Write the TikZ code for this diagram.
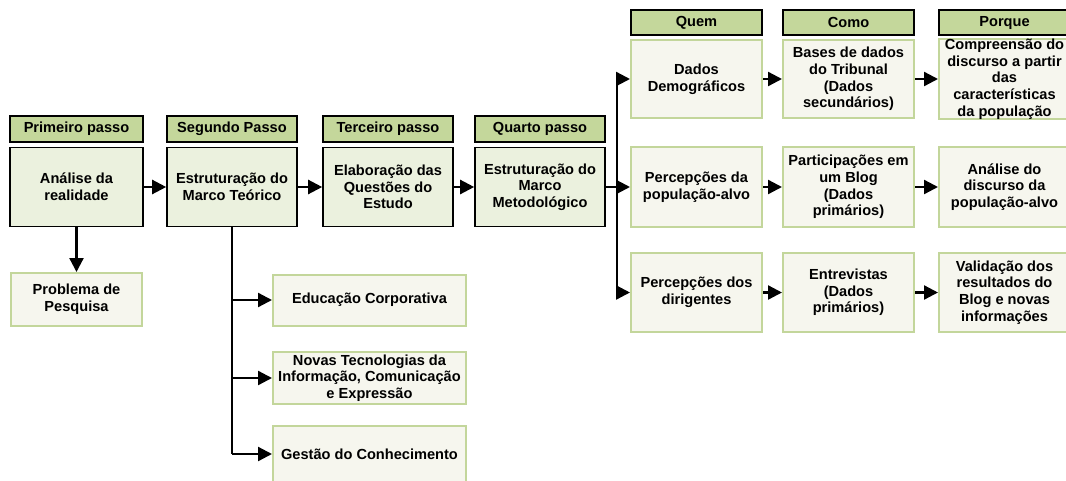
\documentclass[tikz,border=0pt]{standalone}
\usepackage{fontspec}
\setmainfont{Liberation Sans}
\usetikzlibrary{arrows.meta}
\definecolor{hdrfill}{HTML}{C4D79B}
\definecolor{mainfill}{HTML}{EBF1DE}
\definecolor{lightfill}{HTML}{F6F6EE}
\definecolor{lightborder}{HTML}{C3D69B}
\begin{document}
\begin{tikzpicture}[x=1pt,y=-1pt,
  every node/.style={font=\fontsize{14.6}{16.7}\selectfont\bfseries, align=center, inner sep=0pt, text=black},
  hdr/.style={draw=black, line width=1.6pt, fill=hdrfill, minimum height=26},
  mainbox/.style={draw=black, line width=1.6pt, fill=mainfill, minimum height=79},
  lightbox/.style={draw=lightborder, line width=2pt, fill=lightfill},
  conn/.style={line width=2.3pt},
  arr/.style={conn, -{Triangle[length=14pt,width=14pt]}}]
\useasboundingbox (0,0) rectangle (1066,480);
\clip (0,0) rectangle (1066,480);
% --- main row headers
\node[hdr, minimum width=133] (h1) at (76.5,129) {Primeiro passo};
\node[hdr, minimum width=130] (h2) at (232,129) {Segundo Passo};
\node[hdr, minimum width=130] (h3) at (388,129) {Terceiro passo};
\node[hdr, minimum width=130] (h4) at (540,129) {Quarto passo};
% --- main row boxes
\node[mainbox, minimum width=133] (m1) at (76.5,187) {Análise da\\realidade};
\node[mainbox, minimum width=130] (m2) at (232,187) {Estruturação do\\Marco Teórico};
\node[mainbox, minimum width=130] (m3) at (388,187) {Elaboração das\\Questões do\\Estudo};
\node[mainbox, minimum width=130] (m4) at (540,187) {Estruturação do\\Marco\\Metodológico};
% --- below
\node[lightbox, minimum width=131, minimum height=53] (prob) at (76.5,299.5) {Problema de\\Pesquisa};
\node[lightbox, minimum width=193, minimum height=51] (edu) at (369.5,300) {Educação Corporativa};
\node[lightbox, minimum width=193, minimum height=52] (novas) at (369.5,378) {Novas Tecnologias da\\Informação, Comunicação\\e Expressão};
\node[lightbox, minimum width=193, minimum height=56] (gest) at (369.5,454) {Gestão do Conhecimento};
% --- right headers
\node[hdr, minimum width=131, minimum height=25] (hq) at (696.5,22.5) {Quem};
\node[hdr, minimum width=131, minimum height=25] (hc) at (848.5,22.5) {Como};
\node[hdr, minimum width=131, minimum height=25] (hp) at (1004.5,22.5) {Porque};
% --- right grid
\node[lightbox, minimum width=131, minimum height=78] (dados) at (696.5,79) {Dados\\Demográficos};
\node[lightbox, minimum width=131, minimum height=78] (bases) at (848.5,79) {Bases de dados\\do Tribunal\\(Dados\\secundários)};
\node[lightbox, minimum width=131, minimum height=78] (compr) at (1004.5,79) {Compreensão do\\discurso a partir\\das\\características\\da população};
\node[lightbox, minimum width=131, minimum height=80] (pda) at (696.5,187) {Percepções da\\população-alvo};
\node[lightbox, minimum width=131, minimum height=80] (part) at (848.5,187) {Participações em\\um Blog\\(Dados\\primários)};
\node[lightbox, minimum width=131, minimum height=80] (anal) at (1004.5,187) {Análise do\\discurso da\\população-alvo};
\node[lightbox, minimum width=131, minimum height=79] (pdos) at (696.5,292.5) {Percepções dos\\dirigentes};
\node[lightbox, minimum width=131, minimum height=79] (entr) at (848.5,292.5) {Entrevistas\\(Dados\\primários)};
\node[lightbox, minimum width=131, minimum height=79] (valid) at (1004.5,292.5) {Validação dos\\resultados do\\Blog e novas\\informações};
% --- connectors main row
\draw[arr] (m1.east) -- (m2.west);
\draw[arr] (m2.east) -- (m3.west);
\draw[arr] (m3.east) -- (m4.west);
\draw[arr] (m1.south) -- (m1.south |- prob.north);
% --- Segundo branch
\draw[conn] (m2.south) -- (m2.south |- gest.west);
\draw[arr] (m2.south |- edu.west) -- (edu.west);
\draw[arr] (m2.south |- novas.west) -- (novas.west);
\draw[arr] (m2.south |- gest.west) -- (gest.west);
% --- Quarto branch
\coordinate (t) at (617,187);
\draw[conn] (m4.east) -- (t);
\draw[conn] (t |- dados.west) -- (t |- pdos.west);
\draw[arr] (t |- dados.west) -- (dados.west);
\draw[arr] (t |- pda.west) -- (pda.west);
\draw[arr] (t |- pdos.west) -- (pdos.west);
% --- grid arrows
\draw[arr] (dados.east) -- (bases.west);
\draw[arr] (bases.east) -- (compr.west);
\draw[arr] (pda.east) -- (part.west);
\draw[arr] (part.east) -- (anal.west);
\draw[arr] (pdos.east) -- (entr.west);
\draw[arr] (entr.east) -- (valid.west);
\end{tikzpicture}
\end{document}
